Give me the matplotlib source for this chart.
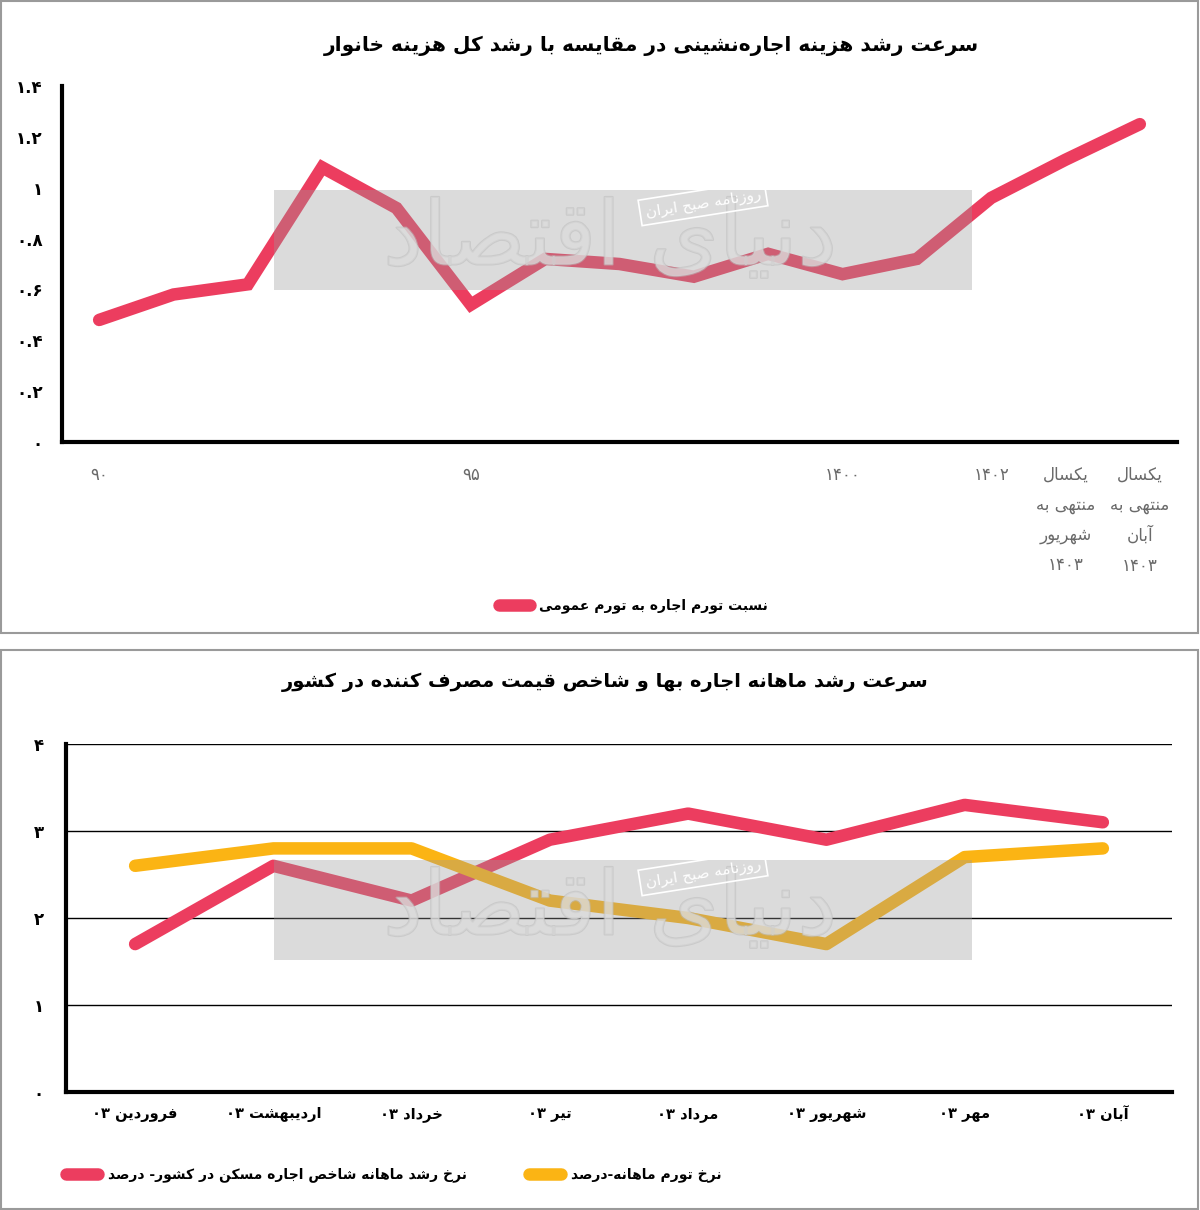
import re
import matplotlib
matplotlib.use("Agg")
import matplotlib.pyplot as plt
import matplotlib.patheffects as pe
from matplotlib.patches import Rectangle

plt.rcParams['font.family'] = ['DejaVu Sans']

# ---- data ----
top_title = "سرعت رشد هزینه اجاره\u200cنشینی در مقایسه با رشد کل هزینه خانوار"
top_series = "نسبت تورم اجاره به تورم عمومی"
top_periods = ["90", "91", "92", "93", "94", "95", "96", "97", "98", "99",
               "1400", "1401", "1402",
               "یکسال\nمنتهی به\nشهریور\n1403", "یکسال\nمنتهی به\nآبان\n1403"]
top_shown = [True, False, False, False, False, True, False, False, False, False,
             True, False, True, True, True]
top_ratio = [0.48, 0.58, 0.62, 1.08, 0.92, 0.54, 0.72, 0.70, 0.65, 0.74,
             0.66, 0.72, 0.96, 1.11, 1.25]
top_yticks = [0, 0.2, 0.4, 0.6, 0.8, 1, 1.2, 1.4]

bot_title = "سرعت رشد ماهانه اجاره بها و شاخص قیمت مصرف کننده در کشور"
bot_months = ["فروردین 03", "اردیبهشت 03", "خرداد 03", "تیر 03",
              "مرداد 03", "شهریور 03", "مهر 03", "آبان 03"]
rent_name = "نرخ رشد ماهانه شاخص اجاره مسکن در کشور- درصد"
rent_growth = [1.7, 2.6, 2.2, 2.9, 3.2, 2.9, 3.3, 3.1]
cpi_name = "نرخ تورم ماهانه-درصد"
cpi_growth = [2.6, 2.8, 2.8, 2.2, 2.0, 1.7, 2.7, 2.8]
bot_yticks = [0, 1, 2, 3, 4]

watermark = "روزنامه صبح ایران"
watermark_logo = "دنیای اقتصاد"

# ---- tiny persian shaper (no external libs) ----
FORMS = {
    'ا': ('\uFE8D', '\uFE8E', None, None),
    'آ': ('\uFE81', '\uFE82', None, None),
    'ب': ('\uFE8F', '\uFE90', '\uFE91', '\uFE92'),
    'پ': ('\uFB56', '\uFB57', '\uFB58', '\uFB59'),
    'ت': ('\uFE95', '\uFE96', '\uFE97', '\uFE98'),
    'ث': ('\uFE99', '\uFE9A', '\uFE9B', '\uFE9C'),
    'ج': ('\uFE9D', '\uFE9E', '\uFE9F', '\uFEA0'),
    'چ': ('\uFB7A', '\uFB7B', '\uFB7C', '\uFB7D'),
    'ح': ('\uFEA1', '\uFEA2', '\uFEA3', '\uFEA4'),
    'خ': ('\uFEA5', '\uFEA6', '\uFEA7', '\uFEA8'),
    'د': ('\uFEA9', '\uFEAA', None, None),
    'ذ': ('\uFEAB', '\uFEAC', None, None),
    'ر': ('\uFEAD', '\uFEAE', None, None),
    'ز': ('\uFEAF', '\uFEB0', None, None),
    'ژ': ('\uFB8A', '\uFB8B', None, None),
    'س': ('\uFEB1', '\uFEB2', '\uFEB3', '\uFEB4'),
    'ش': ('\uFEB5', '\uFEB6', '\uFEB7', '\uFEB8'),
    'ص': ('\uFEB9', '\uFEBA', '\uFEBB', '\uFEBC'),
    'ض': ('\uFEBD', '\uFEBE', '\uFEBF', '\uFEC0'),
    'ط': ('\uFEC1', '\uFEC2', '\uFEC3', '\uFEC4'),
    'ظ': ('\uFEC5', '\uFEC6', '\uFEC7', '\uFEC8'),
    'ع': ('\uFEC9', '\uFECA', '\uFECB', '\uFECC'),
    'غ': ('\uFECD', '\uFECE', '\uFECF', '\uFED0'),
    'ف': ('\uFED1', '\uFED2', '\uFED3', '\uFED4'),
    'ق': ('\uFED5', '\uFED6', '\uFED7', '\uFED8'),
    'ک': ('\uFB8E', '\uFB8F', '\uFB90', '\uFB91'),
    'گ': ('\uFB92', '\uFB93', '\uFB94', '\uFB95'),
    'ل': ('\uFEDD', '\uFEDE', '\uFEDF', '\uFEE0'),
    'م': ('\uFEE1', '\uFEE2', '\uFEE3', '\uFEE4'),
    'ن': ('\uFEE5', '\uFEE6', '\uFEE7', '\uFEE8'),
    'ه': ('\uFEE9', '\uFEEA', '\uFEEB', '\uFEEC'),
    'و': ('\uFEED', '\uFEEE', None, None),
    'ی': ('\uFBFC', '\uFBFD', '\uFBFE', '\uFBFF'),
}
FA_DIGITS = str.maketrans("0123456789", "۰۱۲۳۴۵۶۷۸۹")


def fa_line(s):
    s = s.translate(FA_DIGITS)
    out = []
    for i, c in enumerate(s):
        if c not in FORMS:
            out.append(c)
            continue
        prev = s[i - 1] if i > 0 else None
        nxt = s[i + 1] if i + 1 < len(s) else None
        jp = prev in FORMS and FORMS[prev][2] is not None
        jn = FORMS[c][2] is not None and nxt in FORMS
        iso, fin, ini, med = FORMS[c]
        if jp and jn:
            out.append(med)
        elif jp:
            out.append(fin)
        elif jn:
            out.append(ini)
        else:
            out.append(iso)
    vis = ''.join(out).replace('\u200c', '')[::-1]
    # number runs keep left-to-right order
    return re.sub(r'[۰-۹.]+', lambda m: m.group(0)[::-1], vis)


def fa(s):
    return '\n'.join(fa_line(l) for l in s.split('\n'))


def fa_num(v):
    txt = ("%g" % v)
    return txt.translate(FA_DIGITS)


RED = '#EC3D5F'
YELLOW = '#FBB414'

fig = plt.figure(figsize=(12, 12.1), dpi=100)
W, H = 1200.0, 1210.0


def fx(px):
    return px / W


def fy(py):
    return 1 - py / H


# panel frames
for y0, y1 in [(1, 633), (650, 1209)]:
    fig.add_artist(Rectangle((fx(1), fy(y1)), fx(1197), (y1 - y0) / H,
                             transform=fig.transFigure, fill=False,
                             edgecolor='#9a9a9a', lw=1.5))

# ---- top chart ----
ax1 = fig.add_axes([fx(62), fy(442), fx(1177 - 62), (442 - 86) / H])
x1 = list(range(len(top_periods)))
ax1.plot(x1, top_ratio, color=RED, lw=9, solid_capstyle='round',
         solid_joinstyle='miter', label=fa(top_series))
ax1.set_xlim(-0.5, len(top_periods) - 0.5)
ax1.set_ylim(0, 1.4)
ax1.set_yticks(top_yticks)
ax1.set_yticklabels([fa_num(v) for v in top_yticks], fontsize=12,
                    fontweight='bold')
ax1.set_xticks(x1)
ax1.set_xticklabels([fa(p) if s else '' for p, s in zip(top_periods, top_shown)],
                    fontsize=12, color='#6a6a6a', linespacing=1.85,
                    va='top')
ax1.tick_params(axis='both', length=0)
ax1.tick_params(axis='x', pad=17)
ax1.tick_params(axis='y', pad=14)
for side in ('top', 'right'):
    ax1.spines[side].set_visible(False)
for side in ('left', 'bottom'):
    ax1.spines[side].set_linewidth(3)
fig.text(fx(651), fy(46), fa(top_title), fontsize=14.5, fontweight='bold',
         ha='center', va='center')
ax1.legend(loc='center left', bbox_to_anchor=(fx(499), fy(606)),
           bbox_transform=fig.transFigure, frameon=False,
           prop={'weight': 'bold', 'size': 10}, handlelength=2.2,
           handletextpad=0.7, borderpad=0, borderaxespad=0)

# ---- bottom chart ----
ax2 = fig.add_axes([fx(66), fy(1092), fx(1172 - 66), (1092 - 744) / H])
x2 = list(range(len(bot_months)))
ax2.plot(x2, rent_growth, color=RED, lw=9, solid_capstyle='round',
         label=fa(rent_name), zorder=3)
ax2.plot(x2, cpi_growth, color=YELLOW, lw=9, solid_capstyle='round',
         label=fa(cpi_name), zorder=3)
ax2.set_xlim(-0.5, len(bot_months) - 0.5)
ax2.set_ylim(0, 4)
ax2.set_yticks(bot_yticks)
ax2.set_yticklabels([fa_num(v) for v in bot_yticks], fontsize=12,
                    fontweight='bold')
ax2.set_xticks(x2)
ax2.set_xticklabels([fa(m) for m in bot_months], fontsize=10.5,
                    fontweight='bold')
ax2.tick_params(axis='both', length=0)
ax2.tick_params(axis='x', pad=11)
ax2.tick_params(axis='y', pad=16)
ax2.grid(axis='y', color='black', lw=1)
ax2.set_axisbelow(True)
for side in ('top', 'right'):
    ax2.spines[side].set_visible(False)
for side in ('left', 'bottom'):
    ax2.spines[side].set_linewidth(3)
fig.text(fx(605), fy(682), fa(bot_title), fontsize=14, fontweight='bold',
         ha='center', va='center')
ax2.legend(loc='center left', bbox_to_anchor=(fx(66), fy(1175)),
           bbox_transform=fig.transFigure, frameon=False, ncol=2,
           prop={'weight': 'bold', 'size': 10}, handlelength=2.3,
           handletextpad=0.7, columnspacing=4.5, borderpad=0,
           borderaxespad=0)

# ---- watermark ----
for top in (190, 860):
    fig.text(fx(610), fy(top + 50), fa(watermark_logo), color='white',
             fontsize=64, ha='center', va='center', alpha=0.55, zorder=4,
             path_effects=[pe.withStroke(linewidth=1.5, foreground='#cfcfcf')])
    fig.add_artist(Rectangle((fx(274), fy(top + 100)), fx(972 - 274), 100 / H,
                             transform=fig.transFigure, facecolor='#9a9a9a',
                             alpha=0.35, edgecolor='none', zorder=5))
    fig.text(fx(703), fy(top + 13), fa(watermark), color='white', fontsize=11,
             ha='center', va='center', rotation=9, zorder=6,
             bbox=dict(boxstyle='square,pad=0.35', facecolor='none',
                       edgecolor='white', lw=1.2))

fig.savefig('out.png', dpi=100)
